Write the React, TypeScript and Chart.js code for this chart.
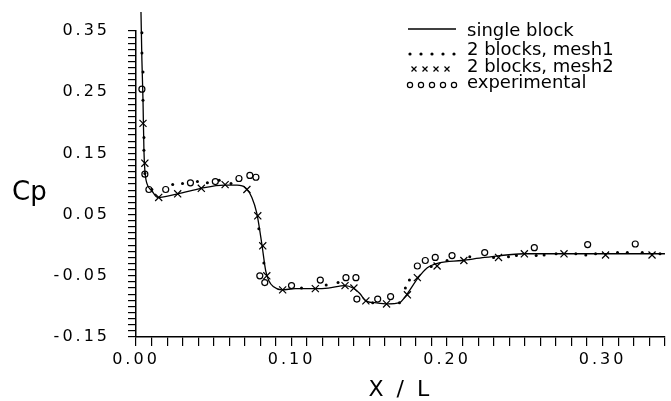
import React, { useEffect, useRef } from "react";
import { Chart, registerables } from "chart.js";

Chart.register(...registerables);

// ---- Data ----
const singleBlockX = [
  0.0032, 0.0038, 0.0045, 0.0051, 0.0057, 0.007, 0.0102, 0.014, 0.0268, 0.042,
  0.0567, 0.065, 0.0707, 0.0745, 0.0777, 0.0809, 0.0834, 0.0854, 0.0885, 0.0936,
  0.1025, 0.1153, 0.1236, 0.1344, 0.1395, 0.1439, 0.1478, 0.1535, 0.1618, 0.1694,
  0.1745, 0.1809, 0.1873, 0.1949, 0.2096, 0.2242, 0.2497, 0.2752, 0.3006, 0.3306, 0.3401,
];
const singleBlockY = [
  0.381, 0.302, 0.237, 0.155, 0.122, 0.101, 0.089, 0.078, 0.084, 0.093,
  0.098, 0.098, 0.093, 0.078, 0.052, 0.002, -0.042, -0.058, -0.068, -0.073,
  -0.071, -0.071, -0.07, -0.066, -0.07, -0.079, -0.091, -0.094, -0.096, -0.094,
  -0.079, -0.055, -0.037, -0.029, -0.025, -0.02, -0.014, -0.014, -0.014, -0.014, -0.014,
];

const mesh1X = [
  0.0038, 0.0038, 0.0045, 0.0045, 0.0051, 0.0051, 0.0057, 0.0102, 0.0236, 0.0299,
  0.0395, 0.0459, 0.0535, 0.0611, 0.079, 0.0822, 0.1064, 0.1223, 0.1299, 0.1522,
  0.1694, 0.1732, 0.1758, 0.1898, 0.2, 0.2146, 0.2299, 0.2395, 0.2446, 0.2573,
  0.2624, 0.2701, 0.2828, 0.2892, 0.2955, 0.3096, 0.3159, 0.3255, 0.3369,
];
const mesh1Y = [
  0.347, 0.314, 0.283, 0.237, 0.176, 0.155, 0.117, 0.091, 0.099, 0.101,
  0.104, 0.102, 0.106, 0.101, 0.027, -0.029, -0.07, -0.065, -0.061, -0.094,
  -0.094, -0.07, -0.057, -0.035, -0.025, -0.019, -0.02, -0.019, -0.017, -0.017,
  -0.016, -0.014, -0.014, -0.016, -0.014, -0.012, -0.012, -0.012, -0.014,
];

const mesh2X = [
  0.0045, 0.0057, 0.0146, 0.0268, 0.042, 0.0573, 0.0713, 0.0783, 0.0815, 0.0841,
  0.0943, 0.1153, 0.1344, 0.1401, 0.1478, 0.1611, 0.1745, 0.1809, 0.1936, 0.2108,
  0.2331, 0.2497, 0.2752, 0.3019, 0.3318,
];
const mesh2Y = [
  0.199, 0.134, 0.078, 0.084, 0.093, 0.099, 0.091, 0.048, -0.001, -0.05,
  -0.073, -0.071, -0.066, -0.07, -0.091, -0.096, -0.081, -0.053, -0.034, -0.025,
  -0.02, -0.014, -0.014, -0.016, -0.016,
];

const experimentalX = [
  0.0038, 0.0057, 0.0083, 0.0191, 0.035, 0.051, 0.0662, 0.0732, 0.0771, 0.0796,
  0.0828, 0.1, 0.1185, 0.135, 0.1414, 0.142, 0.1554, 0.1637, 0.1809, 0.186,
  0.1924, 0.2032, 0.2242, 0.2561, 0.2904, 0.321,
];
const experimentalY = [
  0.255, 0.116, 0.091, 0.091, 0.102, 0.104, 0.109, 0.114, 0.111, -0.05,
  -0.061, -0.066, -0.057, -0.053, -0.053, -0.088, -0.088, -0.084, -0.034, -0.025,
  -0.02, -0.017, -0.012, -0.004, 0.001, 0.002,
];

const seriesLabels = ["single block", "2 blocks, mesh1", "2 blocks, mesh2", "experimental"];

const xTickValues = [0, 0.1, 0.2, 0.3];
const xTickLabels = ["0.00", "0.10", "0.20", "0.30"];
const yTickValues = [0.35, 0.25, 0.15, 0.05, -0.05, -0.15];
const yTickLabels = ["0.35", "0.25", "0.15", "0.05", "-0.05", "-0.15"];

const xTitle = "X / L";
const yTitle = "Cp";

const toPoints = (xs: number[], ys: number[]) => xs.map((x, i) => ({ x, y: ys[i] }));

const lookupLabel = (v: number, vals: number[], labels: string[]) => {
  const i = vals.findIndex((t) => Math.abs(t - v) < 1e-6);
  return i >= 0 ? labels[i] : "";
};

const FONT = '"DejaVu Sans", sans-serif';

const decorPlugin = {
  id: "decor",
  beforeDraw(chart: any) {
    (chart.ctx as any).letterSpacing = "3px";
  },
  afterDraw(chart: any) {
    const ctx = chart.ctx as CanvasRenderingContext2D;
    ctx.save();
    (ctx as any).letterSpacing = "0px";
    ctx.fillStyle = "#000";
    ctx.strokeStyle = "#000";

    // y title (horizontal)
    ctx.font = `26px ${FONT}`;
    ctx.textAlign = "left";
    ctx.textBaseline = "alphabetic";
    ctx.fillText(yTitle, 12, 200);

    // legend
    const sx0 = 408;
    const sx1 = 456;
    const tx = 467;
    const rows = [31, 50, 67, 83];
    ctx.font = `18px ${FONT}`;
    ctx.textBaseline = "middle";
    rows.forEach((ry, i) => {
      ctx.fillText(seriesLabels[i], tx, ry);
    });
    // row 1: line
    ctx.lineWidth = 1.3;
    ctx.beginPath();
    ctx.moveTo(sx0, rows[0] - 2);
    ctx.lineTo(sx1, rows[0] - 2);
    ctx.stroke();
    // row 2: dots
    for (let k = 0; k < 5; k++) {
      ctx.beginPath();
      ctx.arc(sx0 + 2 + k * 11, rows[1] + 4, 1.6, 0, Math.PI * 2);
      ctx.fill();
    }
    // row 3: crosses
    ctx.lineWidth = 1.2;
    for (let k = 0; k < 4; k++) {
      const cx = 414 + k * 11;
      const cy = rows[2] + 2;
      ctx.beginPath();
      ctx.moveTo(cx - 2.5, cy - 2.5);
      ctx.lineTo(cx + 2.5, cy + 2.5);
      ctx.moveTo(cx + 2.5, cy - 2.5);
      ctx.lineTo(cx - 2.5, cy + 2.5);
      ctx.stroke();
    }
    // row 4: circles
    for (let k = 0; k < 5; k++) {
      ctx.beginPath();
      ctx.arc(sx0 + 2 + k * 11, rows[3] + 2, 2.6, 0, Math.PI * 2);
      ctx.stroke();
    }
    ctx.restore();
  },
};

export default function App() {
  const canvasRef = useRef<HTMLCanvasElement | null>(null);

  useEffect(() => {
    if (!canvasRef.current) return;
    const chart = new Chart(canvasRef.current, {
      type: "scatter",
      data: {
        datasets: [
          {
            label: seriesLabels[0],
            data: toPoints(singleBlockX, singleBlockY),
            showLine: true,
            borderColor: "#000",
            borderWidth: 1.3,
            pointRadius: 0,
            cubicInterpolationMode: "monotone",
            clip: false,
          } as any,
          {
            label: seriesLabels[1],
            data: toPoints(mesh1X, mesh1Y),
            showLine: false,
            pointStyle: "circle",
            pointRadius: 1.5,
            pointBorderWidth: 0,
            pointBackgroundColor: "#000",
            clip: false,
          } as any,
          {
            label: seriesLabels[2],
            data: toPoints(mesh2X, mesh2Y),
            showLine: false,
            pointStyle: "crossRot",
            pointRadius: 5,
            pointBorderWidth: 1.2,
            pointBorderColor: "#000",
            clip: false,
          } as any,
          {
            label: seriesLabels[3],
            data: toPoints(experimentalX, experimentalY),
            showLine: false,
            pointStyle: "circle",
            pointRadius: 3,
            pointBorderWidth: 1.2,
            pointBorderColor: "#000",
            pointBackgroundColor: "rgba(255,255,255,0)",
            clip: false,
          } as any,
        ],
      },
      options: {
        animation: false,
        responsive: true,
        maintainAspectRatio: false,
        events: [],
        layout: { padding: { top: 31, right: 1, left: 0, bottom: 0 } },
        plugins: {
          legend: { display: false },
          tooltip: { enabled: false },
        },
        scales: {
          x: {
            type: "linear",
            min: 0,
            max: 0.34,
            afterFit: (scale: any) => {
              scale.height = 64;
            },
            border: { display: true, color: "#000", width: 1.5 },
            grid: {
              drawOnChartArea: false,
              drawTicks: true,
              tickLength: 9,
              color: "#000",
              lineWidth: 1.2,
            },
            ticks: {
              stepSize: 0.01,
              autoSkip: false,
              maxRotation: 0,
              minRotation: 0,
              padding: 4,
              color: "#000",
              font: { family: "DejaVu Sans", size: 16 },
              callback: (v: any) => lookupLabel(Number(v), xTickValues, xTickLabels),
            },
            title: {
              display: true,
              text: xTitle,
              color: "#000",
              font: { family: "DejaVu Sans", size: 22, lineHeight: 1 },
              padding: { top: 0, bottom: 0 },
            },
          },
          y: {
            type: "linear",
            min: -0.15,
            max: 0.35,
            afterFit: (scale: any) => {
              scale.width = 136;
            },
            border: { display: true, color: "#000", width: 1.5 },
            grid: {
              drawOnChartArea: false,
              drawTicks: true,
              tickLength: 8,
              color: "#000",
              lineWidth: 1.2,
            },
            ticks: {
              stepSize: 0.01,
              autoSkip: false,
              maxTicksLimit: 200,
              padding: 18,
              color: "#000",
              font: { family: "DejaVu Sans", size: 16 },
              callback: (v: any) => lookupLabel(Number(v), yTickValues, yTickLabels),
            },
          },
        },
      },
      plugins: [decorPlugin],
    } as any);
    return () => chart.destroy();
  }, []);

  return (
    <div
      style={{
        position: "fixed",
        left: 0,
        top: 0,
        width: 671,
        height: 401,
        background: "#fff",
      }}
    >
      <canvas ref={canvasRef} />
    </div>
  );
}
